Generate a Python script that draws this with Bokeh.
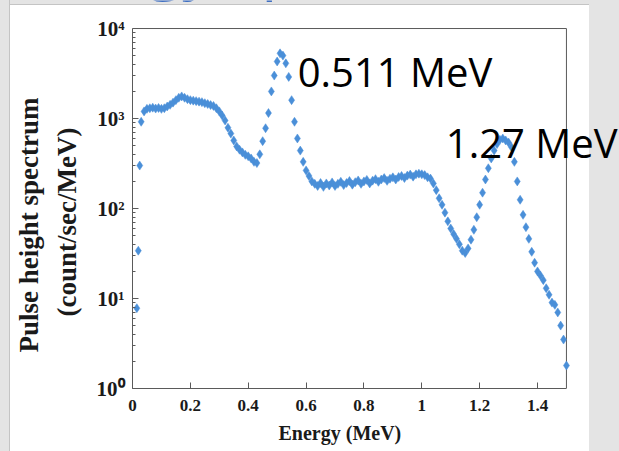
from bokeh.plotting import figure
from bokeh.layouts import row
from bokeh.models import (ColumnDataSource, FixedTicker, Label, Range1d,
                          Title, Spacer)
from bokeh.embed import file_html
from bokeh.resources import INLINE

# Pulse height spectrum (count/sec/MeV) versus deposited energy (MeV)
energy = [
    0.015, 0.020, 0.025, 0.030,
    0.04, 0.05, 0.06, 0.07, 0.08, 0.09, 0.10, 0.11, 0.12, 0.13,
    0.14, 0.15, 0.16, 0.17, 0.18, 0.19, 0.20, 0.21, 0.22, 0.23,
    0.24, 0.25, 0.26, 0.27, 0.28, 0.29, 0.30, 0.31, 0.32, 0.33,
    0.34, 0.35, 0.36, 0.37, 0.38, 0.39, 0.40, 0.41, 0.42, 0.43,
    0.44, 0.45, 0.46, 0.47, 0.48, 0.49, 0.50, 0.51, 0.52, 0.53,
    0.54, 0.55, 0.56, 0.57, 0.58, 0.59, 0.60, 0.61, 0.62, 0.63,
    0.64, 0.65, 0.66, 0.67, 0.68, 0.69, 0.70, 0.71, 0.72, 0.73,
    0.74, 0.75, 0.76, 0.77, 0.78, 0.79, 0.80, 0.81, 0.82, 0.83,
    0.84, 0.85, 0.86, 0.87, 0.88, 0.89, 0.90, 0.91, 0.92, 0.93,
    0.94, 0.95, 0.96, 0.97, 0.98, 0.99, 1.00, 1.01, 1.02, 1.03,
    1.04, 1.05, 1.06, 1.07, 1.08, 1.09, 1.10, 1.11, 1.12, 1.13,
    1.14, 1.15, 1.16, 1.17, 1.18, 1.19, 1.20, 1.21, 1.22, 1.23,
    1.24, 1.25, 1.26, 1.27, 1.28, 1.29, 1.30, 1.31, 1.32, 1.33,
    1.34, 1.35, 1.36, 1.37, 1.38, 1.39, 1.40, 1.41, 1.42, 1.43,
    1.44, 1.45, 1.46, 1.47, 1.48, 1.49, 1.50,
]
counts = [
    7.8, 34, 300, 920,
    1200, 1280, 1300, 1320, 1290, 1310, 1280, 1300, 1360, 1420,
    1500, 1600, 1700, 1760, 1700, 1640, 1600, 1580, 1560, 1540,
    1520, 1480, 1450, 1410, 1380, 1300, 1200, 1080, 950, 790,
    680, 570, 490, 450, 420, 395, 380, 360, 330, 320,
    400, 560, 780, 1150, 2000, 3000, 4300, 5300, 5000, 4100,
    2900, 1600, 920, 600, 440, 330, 265, 230, 200, 188,
    178, 192, 174, 190, 180, 195, 178, 188, 198, 182,
    192, 202, 184, 196, 205, 188, 200, 208, 190, 204,
    212, 198, 210, 218, 203, 214, 222, 210, 224, 230,
    218, 232, 238, 226, 240, 244, 240, 235, 222, 215,
    190, 160, 130, 110, 90, 72, 60, 52, 46, 40,
    34, 32, 36, 45, 58, 80, 110, 150, 210, 280,
    360, 440, 520, 580, 600, 570, 540, 480, 330, 200,
    125, 85, 62, 46, 33, 25, 20, 18, 16, 13,
    11, 9, 8.5, 7, 5, 3.5, 1.8,
]

x_ticks = [0, 0.2, 0.4, 0.6, 0.8, 1.0, 1.2, 1.4]
y_ticks = [1, 10, 100, 1000, 10000]
y_tick_labels = ["10\u2070", "10\u00b9", "10\u00b2", "10\u00b3", "10\u2074"]

peak_energies = [0.571, 1.083]
peak_heights = [3330, 541]
peak_labels = ["0.511 MeV", "1.27 MeV"]

title_text = "Energy spectrum"
x_label = "Energy (MeV)"
y_label_lines = ["Pulse height spectrum", "(count/sec/MeV)"]

# axis box limits
X_MIN, X_MAX = 0.0, 1.5
Y_MIN, Y_MAX = 1.0, 10000.0

SERIF = "Liberation Serif"
AXIS_GREY = "#5a5a5a"
SLIDE_GREY = "#e4e4e4"
EDGE_GREY = "#c4c4c4"
MARK_BLUE = "#4a8fd8"
TEXT_DARK = "#1a1a1a"

# the drawing area runs past the axis box so that the peak captions
# can overhang its right edge
fig = figure(width=609, height=451, y_axis_type="log",
             x_range=Range1d(X_MIN, 1.6834), y_range=Range1d(Y_MIN, 20480),
             output_backend="svg", toolbar_location=None,
             min_border_left=122, min_border_right=0,
             min_border_top=0, min_border_bottom=63)

# transparent canvas: the page behind it supplies the white panel and the
# grey slide margins
fig.border_fill_color = None
fig.background_fill_color = None
fig.outline_line_color = None
fig.xgrid.visible = False
fig.ygrid.visible = False

# top and right edges of the axis box
fig.segment(x0=[X_MIN, X_MAX], y0=[Y_MAX, Y_MIN], x1=[X_MAX, X_MAX],
            y1=[Y_MAX, Y_MAX], line_color=AXIS_GREY, line_width=1)

src = ColumnDataSource(data=dict(energy=energy, counts=counts))
fig.scatter("energy", "counts", source=src, marker="diamond", size=9,
            fill_color=MARK_BLUE, line_color=MARK_BLUE, line_width=0.5)

# axes
fig.xaxis.ticker = FixedTicker(ticks=x_ticks)
minor = [m * d for d in [1, 10, 100, 1000] for m in range(2, 10)]
fig.yaxis.ticker = FixedTicker(ticks=y_ticks, minor_ticks=minor)
fig.yaxis.major_label_overrides = {t: lab for t, lab in zip(y_ticks, y_tick_labels)}
fig.xaxis.bounds = (X_MIN, X_MAX)
fig.yaxis.bounds = (Y_MIN, Y_MAX)

for ax in (fig.xaxis[0], fig.yaxis[0]):
    ax.axis_line_color = AXIS_GREY
    ax.major_tick_line_color = AXIS_GREY
    ax.minor_tick_line_color = AXIS_GREY
    ax.major_tick_in = 6
    ax.major_tick_out = 0
    ax.minor_tick_in = 3
    ax.minor_tick_out = 0
    ax.major_label_text_font = SERIF
    ax.major_label_text_font_style = "bold"
    ax.major_label_text_color = TEXT_DARK

fig.xaxis.minor_tick_line_color = None
fig.xaxis.major_label_text_font_size = "17px"
fig.xaxis.major_label_standoff = 11
fig.yaxis.major_label_text_font_size = "21px"
fig.yaxis.major_label_standoff = 8

# axis titles, placed along the axis box rather than the drawing area
fig.add_layout(Title(text=x_label, align="left", offset=146, standoff=13,
                     text_font=SERIF, text_font_style="bold",
                     text_font_size="20px", text_color=TEXT_DARK), "below")
for line, off, gap in zip(reversed(y_label_lines), [72, 36], [23, -10]):
    fig.add_layout(Title(text=line, align="left", offset=off, standoff=gap,
                         text_font=SERIF, text_font_style="bold",
                         text_font_size="27px", text_color=TEXT_DARK), "left")

# slide title, only its descenders reach down into the top margin
fig.add_layout(Label(x=0, y=5.5, x_units="canvas", y_units="canvas",
                     text=title_text, text_font="Open Sans",
                     text_font_size="64px", text_color="#3f6fc2",
                     text_baseline="bottom", level="overlay"))

# peak captions
for xe, ye, lab in zip(peak_energies, peak_heights, peak_labels):
    fig.add_layout(Label(x=xe, y=ye, text=lab, text_font="Open Sans",
                         text_font_size="40px", text_color="black",
                         text_baseline="alphabetic", level="overlay"))

# page strips: grey slide margins on the left, top and right; the top and
# right ones sit underneath the transparent chart canvas
left_margin = Spacer(width=9, height=451, styles={"background-color": SLIDE_GREY})
left_edge = Spacer(width=1, height=451, styles={"background-color": EDGE_GREY})
top_margin = Spacer(width=609, height=5, margin=(0, -609, 0, 0),
                    styles={"background-color": SLIDE_GREY,
                            "border-bottom": "1px solid " + EDGE_GREY})
right_margin = Spacer(width=30, height=451, margin=(0, -609, 0, 579),
                      styles={"background-color": SLIDE_GREY})
p = row(left_margin, left_edge, top_margin, right_margin, fig, spacing=0,
        styles={"background-color": "white"})

open("out.html", "w").write(file_html(p, INLINE))
